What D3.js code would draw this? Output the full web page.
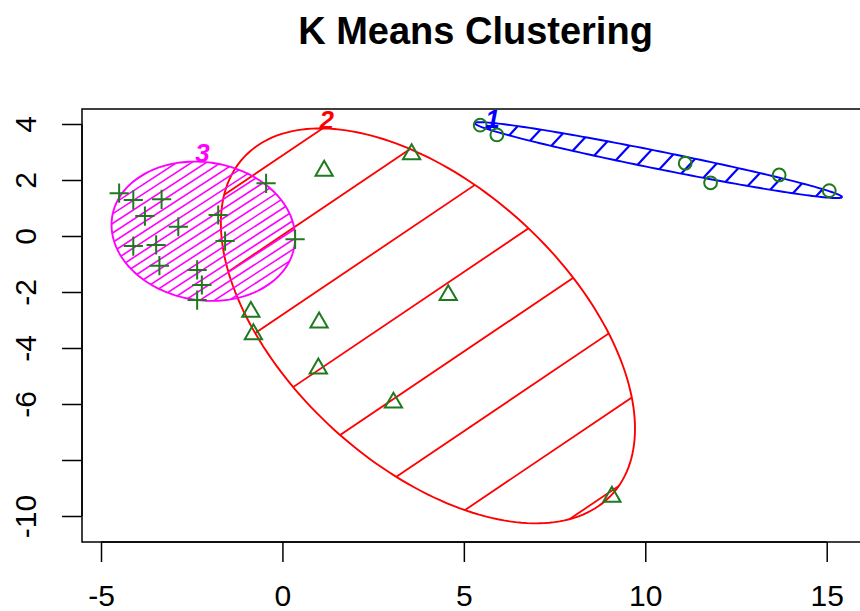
<!DOCTYPE html>
<html>
<head>
<meta charset="utf-8">
<script src="https://cdn.jsdelivr.net/npm/d3@7"></script>
<style>
  html, body { margin: 0; padding: 0; background: #fff; }
  svg { display: block; }
</style>
</head>
<body>
<svg id="chart" width="860" height="611"></svg>
<script>
// ---------- data ----------
const title = "K Means Clustering";
const xTicks = [-5, 0, 5, 10, 15];
const xTickLabels = ["-5", "0", "5", "10", "15"];
const yTicks = [4, 2, 0, -2, -4, -6, -8, -10];
const yTickLabels = ["4", "2", "0", "-2", "-4", "-6", "", "-10"];

// cluster 1 (circles)
const c1x = [5.45, 5.91, 11.10, 11.80, 13.69, 15.07];
const c1y = [3.96, 3.61, 2.60, 1.90, 2.18, 1.62];
// cluster 2 (triangles)
const c2x = [1.15, 3.56, 4.57, -0.87, -0.80, 1.01, 0.99, 3.06, 9.08];
const c2y = [2.33, 2.92, -2.11, -2.71, -3.51, -3.09, -4.73, -5.95, -9.31];
// cluster 3 (plus signs)
const c3x = [-4.50, -4.11, -3.33, -3.79, -2.87, -4.11, -3.48, -3.39, -2.35, -2.22, -2.35, -1.77, -1.58, -0.45, 0.35];
const c3y = [1.53, 1.29, 1.31, 0.71, 0.33, -0.36, -0.32, -1.06, -1.21, -1.75, -2.29, 0.75, -0.18, 1.88, -0.12];

// cluster ellipses: centre and two conjugate semi-diameters (data units)
const clusterLabels = ["1", "2", "3"];
const ellCx = [10.36, 4.01, -2.18];
const ellCy = [2.71, -3.21, 0.17];
const ellUx = [5.06, 5.08, 2.51];
const ellUy = [-1.32, -6.01, -0.53];
const ellVx = [-0.048, -2.60, -0.31];
const ellVy = [-0.308, -3.69, -2.43];

// ---------- styles ----------
const clusterColors = ["#0000ff", "#ff0000", "#ff00ff"];
const hatchAngle = [47, 34, 33];      // degrees, rising
const hatchSpacing = [19, 66, 8];     // px
const hatchPhase = [7, 41.4, 0];      // px
const hatchWidth = [2.2, 1.8, 1.6];
const labelShift = [[13, -4], [4, -9], [8, -9]];
const pointColor = "#1f7a1f";
const font = "'Liberation Sans', Arial, Helvetica, sans-serif";

// ---------- layout ----------
const box = { left: 82, top: 109, right: 869, bottom: 542 };
const x = d3.scaleLinear().domain([-5, 15]).range([101, 826.7]);
const y = d3.scaleLinear().domain([4, -10]).range([124, 516]);

const svg = d3.select("#chart");

// title
svg.append("text")
  .attr("x", (box.left + box.right) / 2)
  .attr("y", 44)
  .attr("text-anchor", "middle")
  .attr("font-family", font)
  .attr("font-weight", "bold")
  .attr("font-size", 38)
  .attr("fill", "#000")
  .text(title);

// plot clip
const defs = svg.append("defs");
defs.append("clipPath").attr("id", "plotclip")
  .append("rect")
  .attr("x", box.left).attr("y", box.top)
  .attr("width", box.right - box.left).attr("height", box.bottom - box.top);

const plot = svg.append("g").attr("clip-path", "url(#plotclip)");

// ellipses
const N = 200;
const line = d3.line();
const ellPts = ellCx.map((cx, i) => d3.range(N).map(k => {
  const t = 2 * Math.PI * k / N;
  return [x(cx + Math.cos(t) * ellUx[i] + Math.sin(t) * ellVx[i]),
          y(ellCy[i] + Math.cos(t) * ellUy[i] + Math.sin(t) * ellVy[i])];
}));

ellPts.forEach((pts, i) => {
  const id = "ellclip" + i;
  defs.append("clipPath").attr("id", id)
    .append("path").attr("d", line(pts) + "Z");

  // hatching
  const a = hatchAngle[i] * Math.PI / 180;
  const d = [Math.cos(a), -Math.sin(a)];
  const n = [Math.sin(a), Math.cos(a)];
  const c = [x(ellCx[i]), y(ellCy[i])];
  const proj = pts.map(p => (p[0] - c[0]) * n[0] + (p[1] - c[1]) * n[1]);
  const lo = d3.min(proj), hi = d3.max(proj);
  const s = hatchSpacing[i];
  const kStart = Math.floor((lo - hatchPhase[i]) / s);
  const kEnd = Math.ceil((hi - hatchPhase[i]) / s);
  const L = 600;
  const hg = plot.append("g").attr("clip-path", `url(#${id})`);
  for (let k = kStart; k <= kEnd; k++) {
    const o = hatchPhase[i] + k * s;
    const px = c[0] + o * n[0], py = c[1] + o * n[1];
    hg.append("line")
      .attr("x1", px - L * d[0]).attr("y1", py - L * d[1])
      .attr("x2", px + L * d[0]).attr("y2", py + L * d[1])
      .attr("stroke", clusterColors[i])
      .attr("stroke-width", hatchWidth[i]);
  }
  // outline
  plot.append("path")
    .attr("d", line(pts) + "Z")
    .attr("fill", "none")
    .attr("stroke", clusterColors[i])
    .attr("stroke-width", 1.9);

  // cluster label just above the topmost point
  const top = pts.reduce((m, p) => p[1] < m[1] ? p : m, pts[0]);
  svg.append("text")
    .attr("x", top[0] + labelShift[i][0])
    .attr("y", top[1] + labelShift[i][1])
    .attr("dy", "0.36em")
    .attr("text-anchor", "middle")
    .attr("font-family", font)
    .attr("font-weight", "bold")
    .attr("font-style", "italic")
    .attr("font-size", 26)
    .attr("fill", clusterColors[i])
    .text(clusterLabels[i]);
});

// points
const rad = 6.4;
const pg = plot.append("g")
  .attr("fill", "none")
  .attr("stroke", pointColor)
  .attr("stroke-width", 2);

c1x.forEach((v, i) => {
  pg.append("circle").attr("cx", x(v)).attr("cy", y(c1y[i])).attr("r", rad);
});
const triPath = (cx, cy) => {
  const r = 1.555 * rad, xc = 1.347 * rad, yc = 0.778 * rad;
  return `M${cx},${cy - r}L${cx + xc},${cy + yc}L${cx - xc},${cy + yc}Z`;
};
c2x.forEach((v, i) => {
  pg.append("path").attr("d", triPath(x(v), y(c2y[i])));
});
const arm = 1.5 * rad;
c3x.forEach((v, i) => {
  const cx = x(v), cy = y(c3y[i]);
  pg.append("path").attr("d", `M${cx - arm},${cy}H${cx + arm}M${cx},${cy - arm}V${cy + arm}`);
});

// box
svg.append("rect")
  .attr("x", box.left).attr("y", box.top)
  .attr("width", box.right - box.left).attr("height", box.bottom - box.top)
  .attr("fill", "none").attr("stroke", "#000").attr("stroke-width", 1.5);

// x axis
const xAxis = d3.axisBottom(x).tickValues(xTicks)
  .tickFormat((d, i) => xTickLabels[i]).tickSize(20).tickPadding(23);
const gx = svg.append("g").attr("transform", `translate(0,${box.bottom})`).call(xAxis);
gx.select(".domain").attr("d", `M${x(xTicks[0])},0H${x(xTicks[xTicks.length - 1])}`)
  .attr("stroke", "#000").attr("stroke-width", 1.5);
gx.selectAll(".tick line").attr("stroke", "#000").attr("stroke-width", 1.5);
gx.selectAll(".tick text").attr("font-family", font).attr("font-size", 30).attr("fill", "#000");

// y axis
const yAxis = d3.axisLeft(y).tickValues(yTicks)
  .tickFormat((d, i) => yTickLabels[i]).tickSize(20);
const gy = svg.append("g").attr("transform", `translate(${box.left},0)`).call(yAxis);
gy.select(".domain").attr("d", `M0,${y(yTicks[0])}V${y(yTicks[yTicks.length - 1])}`)
  .attr("stroke", "#000").attr("stroke-width", 1.5);
gy.selectAll(".tick line").attr("stroke", "#000").attr("stroke-width", 1.5);
gy.selectAll(".tick text")
  .attr("font-family", font).attr("font-size", 30).attr("fill", "#000")
  .attr("text-anchor", "middle")
  .attr("x", null).attr("dy", null)
  .attr("transform", `translate(-46,0) rotate(-90)`)
  .attr("y", 0);
</script>
</body>
</html>
